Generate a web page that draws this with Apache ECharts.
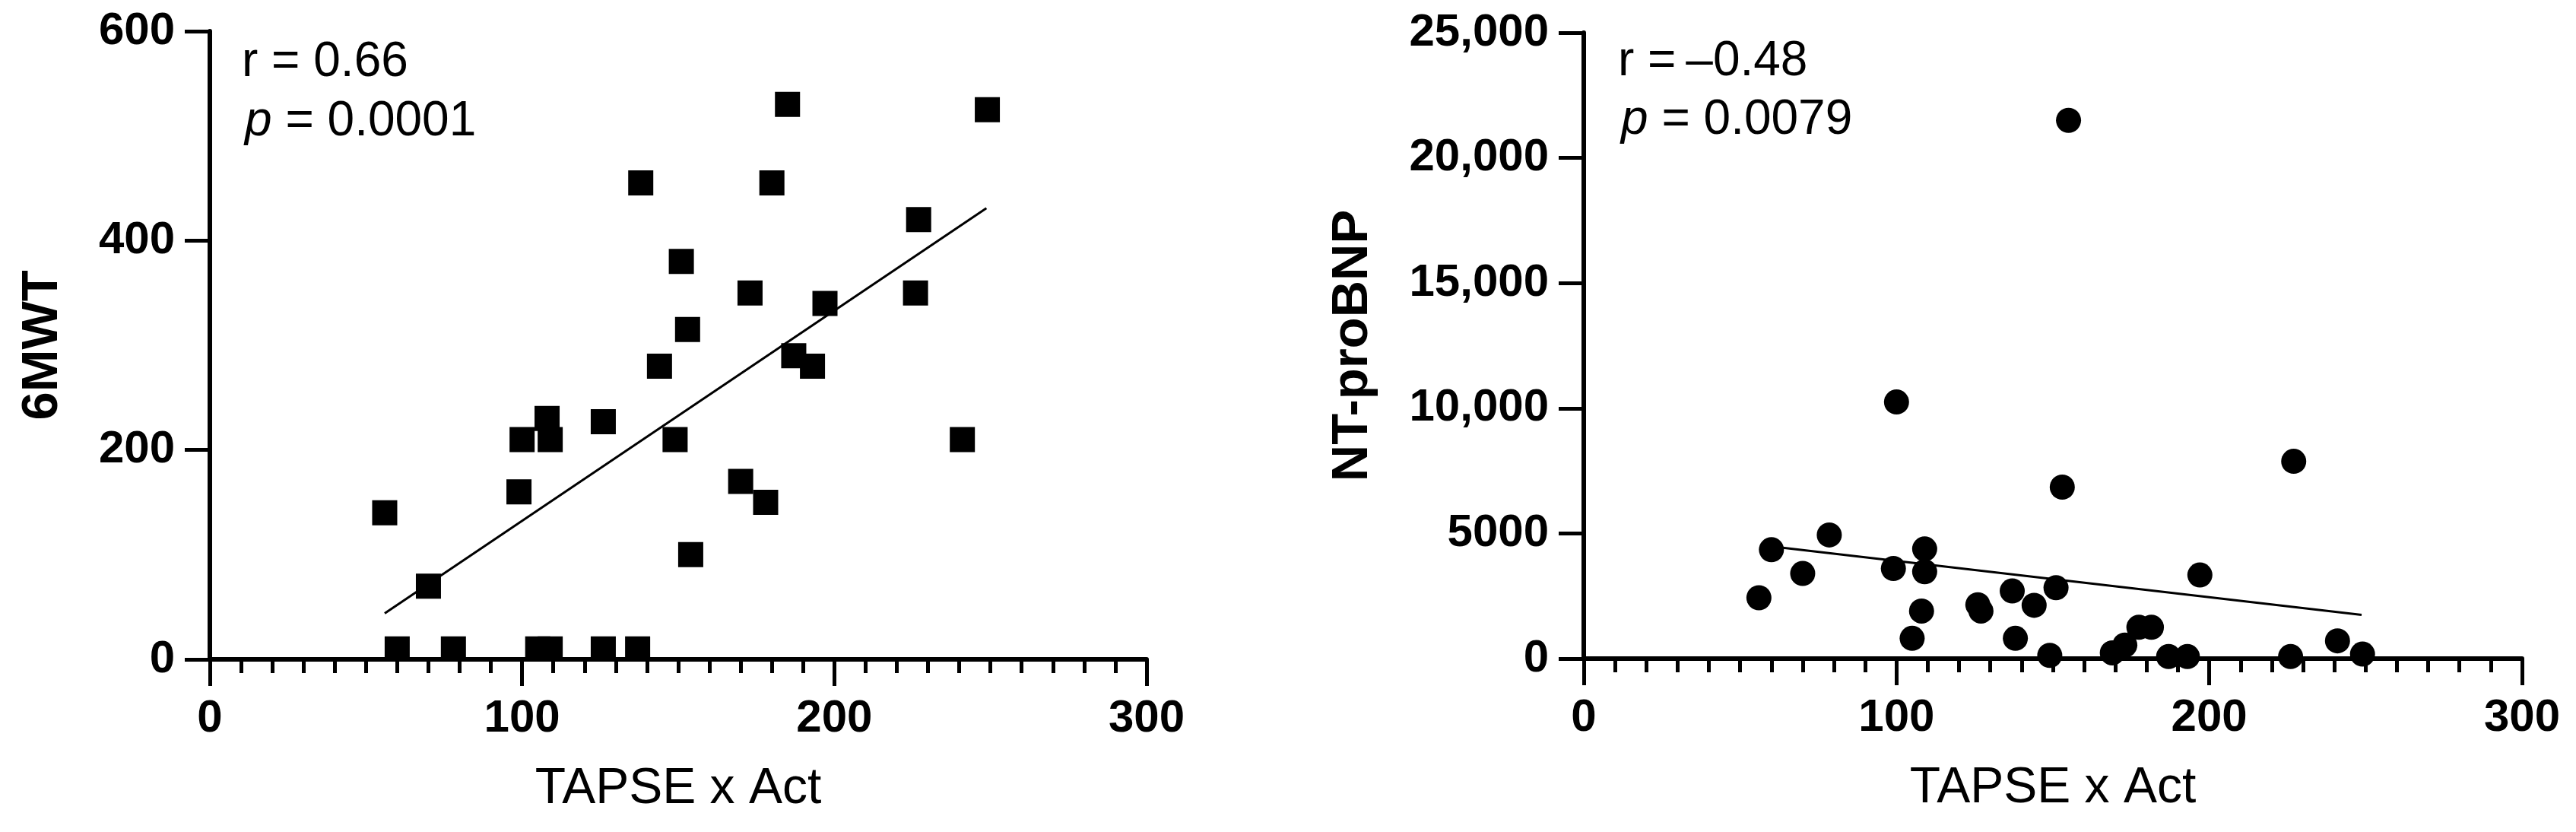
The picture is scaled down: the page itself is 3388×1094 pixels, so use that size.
<!DOCTYPE html>
<html>
<head>
<meta charset="utf-8">
<script src="https://cdn.jsdelivr.net/npm/echarts@6/dist/echarts.min.js"></script>
<style>
  html, body { margin: 0; padding: 0; background: #fff; }
  #chart { width: 3388px; height: 1094px; }
</style>
</head>
<body>
<div id="chart"></div>
<script>
// left panel: 6MWT vs TAPSE x Act
const tapseA = [56, 60, 70, 78, 99, 100, 108, 109, 105, 109, 126, 126, 137, 138, 144, 149, 151, 153, 154, 170, 173, 178, 180, 185, 187, 193, 197, 227, 226, 241, 249]
const mwt = [140, 10, 70, 10, 160, 210, 230, 210, 10, 10, 227, 10, 10, 455, 280, 210, 380, 315, 100, 170, 350, 150, 455, 530, 290, 280, 340, 420, 350, 210, 525]
const fitA = [[56, 44], [248.7, 431]]

// right panel: NT-proBNP vs TAPSE x Act
const tapseB = [56, 60, 70, 78.5, 99, 100, 105, 108, 109, 109, 126, 127, 137, 138, 144, 149, 151, 153, 155, 169, 173, 177.5, 181.5, 187, 193, 197, 226, 227, 241, 249]
const bnp = [2430, 4350, 3400, 4940, 3600, 10250, 810, 1900, 4380, 3470, 2150, 1900, 2700, 810, 2130, 130, 2830, 6850, 21500, 230, 540, 1250, 1250, 80, 80, 3340, 80, 7880, 710, 180]
const fitB = [[60, 4480], [248.7, 1750]]

const xTicks = [0, 100, 200, 300]
const yTicksA = [0, 200, 400, 600]
const yTicksB = [0, 5000, 10000, 15000, 20000, 25000]

const FONT = '"Liberation Sans", Arial, sans-serif'
const black = '#000'

function xAxisOf(gridIndex) {
  return {
    type: 'value', gridIndex,
    min: xTicks[0], max: xTicks[xTicks.length - 1], interval: 100,
    name: 'TAPSE x Act', nameLocation: 'middle', nameGap: 138,
    nameTextStyle: { fontFamily: FONT, fontSize: 66, color: black },
    axisLine: { lineStyle: { color: black, width: 6 } },
    axisTick: { length: 35, lineStyle: { color: black, width: 5 } },
    minorTick: { show: true, splitNumber: 10, length: 18, lineStyle: { color: black, width: 5 } },
    splitLine: { show: false },
    axisLabel: { margin: 48, fontFamily: FONT, fontSize: 60, fontWeight: 'bold', color: black },
  }
}

function yAxisOf(gridIndex, ticks, name, gap, fmt) {
  return {
    type: 'value', gridIndex,
    min: ticks[0], max: ticks[ticks.length - 1], interval: ticks[1] - ticks[0],
    name, nameLocation: 'middle', nameGap: gap,
    nameTextStyle: { fontFamily: FONT, fontSize: 67, fontWeight: 'bold', color: black },
    axisLine: { show: true, lineStyle: { color: black, width: 6 } },
    axisTick: { show: true, length: 33, lineStyle: { color: black, width: 5 } },
    splitLine: { show: false },
    axisLabel: { margin: 46, fontFamily: FONT, fontSize: 60, fontWeight: 'bold', color: black, formatter: fmt },
  }
}

const fmtB = v => v >= 10000 ? v.toLocaleString('en-US') : String(v)

const chart = echarts.init(document.getElementById('chart'))
chart.setOption({
  backgroundColor: '#fff',
  animation: false,
  grid: [
    { left: 276, width: 1232, top: 41, height: 826 },
    { left: 2083, width: 1234, top: 43, height: 823 },
  ],
  xAxis: [xAxisOf(0), xAxisOf(1)],
  yAxis: [
    yAxisOf(0, yTicksA, '6MWT', 186),
    yAxisOf(1, yTicksB, 'NT-proBNP', 270, fmtB),
  ],
  series: [
    {
      type: 'line', xAxisIndex: 0, yAxisIndex: 0, data: fitA,
      symbol: 'none', lineStyle: { color: black, width: 3 }, z: 2,
    },
    {
      type: 'scatter', xAxisIndex: 0, yAxisIndex: 0,
      data: tapseA.map((x, i) => [x, mwt[i]]),
      symbol: 'rect', symbolSize: 33, itemStyle: { color: black, opacity: 1 }, z: 3,
    },
    {
      type: 'line', xAxisIndex: 1, yAxisIndex: 1, data: fitB,
      symbol: 'none', lineStyle: { color: black, width: 3 }, z: 2,
    },
    {
      type: 'scatter', xAxisIndex: 1, yAxisIndex: 1,
      data: tapseB.map((x, i) => [x, bnp[i]]),
      symbol: 'circle', symbolSize: 33, itemStyle: { color: black, opacity: 1 }, z: 3,
    },
  ],
  graphic: [
    { type: 'text', left: 318, top: 50, style: { text: 'r = 0.66', font: '64px ' + FONT, fill: black } },
    {
      type: 'text', left: 322, top: 128,
      style: {
        text: '{i|p} = 0.0001', font: '64px ' + FONT, fill: black,
        rich: { i: { fontStyle: 'italic', fontSize: 64, fontFamily: FONT } },
      },
    },
    { type: 'text', left: 2128, top: 49, style: { text: 'r =\u2009\u20130.48', font: '64px ' + FONT, fill: black } },
    {
      type: 'text', left: 2132, top: 126,
      style: {
        text: '{i|p} = 0.0079', font: '64px ' + FONT, fill: black,
        rich: { i: { fontStyle: 'italic', fontSize: 64, fontFamily: FONT } },
      },
    },
  ],
})
</script>
</body>
</html>
